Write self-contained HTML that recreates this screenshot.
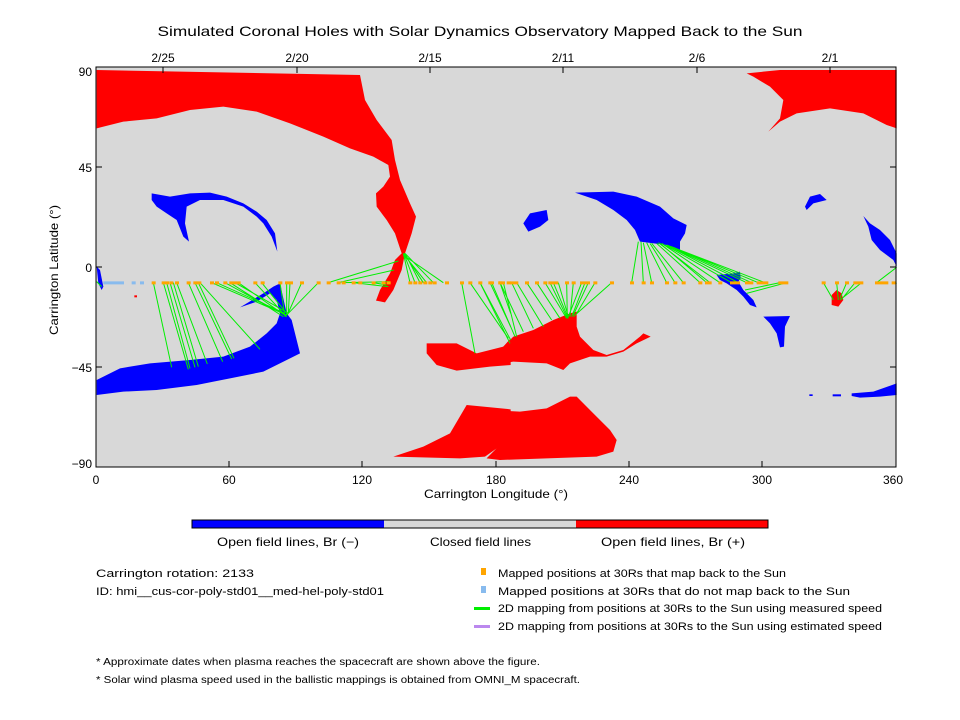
<!DOCTYPE html>
<html><head><meta charset="utf-8"><style>
html,body{margin:0;padding:0;background:#fff;}
svg{display:block;font-family:"Liberation Sans",sans-serif;}
</style></head><body>
<svg width="960" height="720" viewBox="0 0 960 720" xmlns="http://www.w3.org/2000/svg">
<rect width="960" height="720" fill="#fff"/>
<text x="480" y="36" font-size="14" text-anchor="middle" textLength="645" lengthAdjust="spacingAndGlyphs">Simulated Coronal Holes with Solar Dynamics Observatory Mapped Back to the Sun</text>
<rect x="96" y="67" width="800" height="400" fill="#d8d8d8"/>
<g transform="translate(90,60) scale(0.33333)">
<polygon fill="#ff0000" points="20,30 810,45 825,120 860,180 905,240 915,300 930,360 960,430 978,470 965,520 945,580 935,630 910,690 885,727 858,722 870,690 900,640 915,600 935,580 915,520 890,480 860,440 858,400 880,380 900,350 895,315 850,290 780,265 700,230 600,190 500,155 400,140 300,150 200,175 100,185 20,205"/>
<polygon fill="#0000ff" points="185,400 240,410 300,400 360,398 410,410 460,430 500,455 530,480 555,520 562,575 545,530 520,490 500,470 460,440 400,420 330,420 290,440 285,490 297,545 280,530 260,480 230,460 200,440 185,420"/>
<polygon fill="#0000ff" points="20,960 90,925 180,910 300,900 400,890 480,860 530,820 560,790 570,760 560,720 540,700 500,725 450,742 470,730 520,700 550,680 570,670 590,760 605,780 625,860 630,880 600,895 520,935 420,955 320,975 200,990 100,995 20,1005"/>
<polygon fill="#0000ff" points="20,620 30,630 40,680 35,690 25,670"/>
<rect x="133" y="706" width="8" height="6" fill="#ff0000"/>
<polygon fill="#ff0000" points="1010,850 1100,850 1160,880 1240,860 1262,835 1262,915 1200,920 1100,932 1040,915 1010,880"/>
<polygon fill="#ff0000" points="910,1190 1000,1160 1080,1120 1130,1035 1262,1048 1262,1195 1190,1195 1220,1165 1185,1190 1110,1195"/>
</g>
<g transform="translate(480,60) scale(0.33333)">
<polygon fill="#ff0000" points="-3,880 60,870 100,830 160,810 220,780 270,760 290,755 290,800 300,830 340,870 380,885 430,870 480,830 490,820 512,830 470,850 430,875 380,890 330,890 270,910 250,930 200,910 100,905 -3,920"/>
<polygon fill="#ff0000" points="-3,1048 120,1055 200,1045 270,1010 290,1010 340,1060 390,1110 410,1140 400,1175 350,1190 200,1195 60,1200 20,1195 50,1165 -3,1185"/>
<polygon fill="#0000ff" points="285,398 400,395 470,410 540,440 580,475 620,495 615,520 600,545 600,570 560,555 480,545 465,510 440,480 400,450 350,420"/>
<polygon fill="#0000ff" points="130,490 150,460 200,450 205,480 180,500 145,515"/>
<polygon fill="#0000ff" points="710,645 760,640 780,635 782,655 775,665 790,690 820,720 830,742 810,735 790,710 770,690 740,670 720,660"/>
<polygon fill="#0000ff" points="850,770 930,768 915,800 912,860 900,862 890,820 870,790"/>
<polygon fill="#0000ff" points="975,440 990,410 1020,402 1040,420 1000,430 980,450"/>
<polygon fill="#0000ff" points="1150,468 1170,490 1200,510 1230,540 1250,580 1250,620 1240,600 1200,570 1175,540 1165,500"/>
<polygon fill="#0000ff" points="1115,1000 1180,995 1250,970 1250,1005 1200,1010 1140,1013 1115,1008"/>
<rect x="988" y="1003" width="10" height="5" fill="#0000ff"/><rect x="1058" y="1003" width="25" height="6" fill="#0000ff"/>
<polygon fill="#ff0000" points="800,40 900,30 1250,30 1250,205 1220,195 1150,160 1050,145 950,160 900,185 865,215 900,175 910,120 870,80 820,50"/>
<polygon fill="#ff0000" points="1055,705 1070,690 1085,700 1090,720 1075,740 1055,735"/>
</g>
<g transform="translate(90,60) scale(0.33333)" stroke="#00ee00" stroke-width="3" fill="none">
<path d="M190,668L245,922M220,668L295,928M230,668L300,925M240,668L315,922M250,668L325,920M260,668L352,912M295,668L398,905M315,668L425,897M325,668L432,895M330,668L510,868M365,668L590,765M380,668L585,760M405,668L590,768M420,668L580,770M435,668L595,760M445,668L590,770M495,668L585,765M515,668L590,760M570,668L585,770M590,668L590,765M600,668L595,760M635,668L592,765M685,668L595,760M715,668L925,603M745,668L912,630M760,668L900,665M790,668L895,680M850,668L890,675M960,668L940,580M975,668L942,582M990,668L945,580M1000,668L942,580M1010,668L940,582M1030,668L945,580M1060,668L940,585M1115,668L1155,880M1140,668L1255,835M1170,668L1262,840M1200,668L1262,800M1230,668L1262,760M20,665L35,680"/>
</g>
<g transform="translate(480,60) scale(0.33333)" stroke="#00ee00" stroke-width="3" fill="none">
<path d="M0,668L90,850M35,668L105,830M60,668L130,815M70,668L110,830M95,668L160,805M110,668L190,800M140,668L215,780M170,668L240,775M195,668L260,775M210,668L260,770M220,668L265,775M235,668L265,770M260,668L262,775M280,668L270,770M305,668L265,770M315,668L275,770M325,668L280,765M345,668L290,760M395,668L280,770M455,668L475,545M490,668L483,545M515,668L490,548M560,668L500,548M585,668L510,550M610,668L515,550M660,668L530,550M680,668L540,550M690,668L535,548M720,668L545,550M755,668L555,555M775,668L560,555M800,668L570,560M815,668L575,560M835,668L580,562M855,668L560,555M900,668L795,690M920,668L800,700M1030,668L1060,720M1070,668L1075,720M1100,668L1080,715M1125,668L1085,718M1145,668L1080,720M1190,668L1250,622M1240,668L1250,670"/>
</g>
<g transform="translate(90,60) scale(0.33333)" fill="#ffa500">
<path d="M185,664h12v9h-12zM215,664h12v9h-12zM225,664h12v9h-12zM238,664h12v9h-12zM255,664h12v9h-12zM290,664h12v9h-12zM310,664h12v9h-12zM322,664h12v9h-12zM360,664h12v9h-12zM375,664h12v9h-12zM400,664h12v9h-12zM418,664h12v9h-12zM430,664h12v9h-12zM440,664h12v9h-12zM490,664h12v9h-12zM512,664h12v9h-12zM565,664h12v9h-12zM585,664h12v9h-12zM597,664h12v9h-12zM630,664h12v9h-12zM680,664h12v9h-12zM710,664h12v9h-12zM740,664h12v9h-12zM755,664h12v9h-12zM785,664h12v9h-12zM805,664h12v9h-12zM845,664h12v9h-12zM875,664h12v9h-12zM890,664h12v9h-12zM955,664h12v9h-12zM970,664h12v9h-12zM985,664h12v9h-12zM1000,664h12v9h-12zM1015,664h12v9h-12zM1028,664h12v9h-12zM1065,664h12v9h-12zM1110,664h12v9h-12zM1135,664h12v9h-12zM1165,664h12v9h-12zM1195,664h12v9h-12zM1225,664h12v9h-12zM1250,664h12v9h-12z"/>
<path fill="#88bbee" d="M40,664h62v9h-62zM125,664h12v9h-12zM150,664h12v9h-12z"/>
</g>
<g transform="translate(480,60) scale(0.33333)" fill="#ffa500">
<path d="M30,664h12v9h-12zM55,664h20v9h-20zM90,664h25v9h-25zM135,664h12v9h-12zM165,664h12v9h-12zM190,664h12v9h-12zM205,664h30v9h-30zM255,664h12v9h-12zM275,664h12v9h-12zM300,664h30v9h-30zM340,664h12v9h-12zM390,664h12v9h-12zM450,664h12v9h-12zM485,664h12v9h-12zM510,664h12v9h-12zM555,664h12v9h-12zM580,664h12v9h-12zM605,664h12v9h-12zM655,664h12v9h-12zM675,664h20v9h-20zM715,664h12v9h-12zM750,664h30v9h-30zM795,664h25v9h-25zM830,664h35v9h-35zM895,664h30v9h-30zM1025,664h12v9h-12zM1065,664h12v9h-12zM1095,664h12v9h-12zM1120,664h30v9h-30zM1185,664h40v9h-40zM1235,664h12v9h-12z"/>
</g>
<rect x="96" y="67" width="800" height="400" fill="none" stroke="#000" stroke-width="1"/>
<g stroke="#000" stroke-width="1">
<path d="M96,167h6M96,267h6M96,367h6M890,167h6M890,267h6M890,367h6M229,467v-6M362,467v-6M496,467v-6M629,467v-6M762,467v-6M163,67v6M297,67v6M430,67v6M563,67v6M697,67v6M830,67v6"/>
</g>
<g font-size="12" text-anchor="end">
<text x="92" y="76">90</text><text x="92" y="172">45</text><text x="92" y="272">0</text><text x="92" y="372">−45</text><text x="92" y="468">−90</text>
</g>
<g font-size="12" text-anchor="middle">
<text x="96" y="484">0</text><text x="229" y="484">60</text><text x="362" y="484">120</text><text x="496" y="484">180</text><text x="629" y="484">240</text><text x="762" y="484">300</text><text x="893" y="484">360</text>
<text x="163" y="62">2/25</text><text x="297" y="62">2/20</text><text x="430" y="62">2/15</text><text x="563" y="62">2/11</text><text x="697" y="62">2/6</text><text x="830" y="62">2/1</text>
<text x="496" y="498" textLength="144" lengthAdjust="spacingAndGlyphs">Carrington Longitude (°)</text>
<text transform="translate(58,270) rotate(-90)" textLength="130" lengthAdjust="spacingAndGlyphs">Carrington Latitude (°)</text>
</g>
<rect x="192" y="520" width="192" height="8" fill="#0000ff"/>
<rect x="384" y="520" width="192" height="8" fill="#d8d8d8"/>
<rect x="576" y="520" width="192" height="8" fill="#ff0000"/>
<rect x="192" y="520" width="576" height="8" fill="none" stroke="#000"/>
<g font-size="12">
<text x="217" y="546" textLength="142" lengthAdjust="spacingAndGlyphs">Open field lines, Br (−)</text>
<text x="430" y="546" textLength="101" lengthAdjust="spacingAndGlyphs">Closed field lines</text>
<text x="601" y="546" textLength="144" lengthAdjust="spacingAndGlyphs">Open field lines, Br (+)</text>
</g>
<g font-size="11" lengthAdjust="spacingAndGlyphs">
<text x="96" y="577" textLength="158" lengthAdjust="spacingAndGlyphs">Carrington rotation: 2133</text>
<text x="96" y="595" textLength="288" lengthAdjust="spacingAndGlyphs">ID: hmi__cus-cor-poly-std01__med-hel-poly-std01</text>
<text x="498" y="577" textLength="288" lengthAdjust="spacingAndGlyphs">Mapped positions at 30Rs that map back to the Sun</text>
<text x="498" y="595" textLength="352" lengthAdjust="spacingAndGlyphs">Mapped positions at 30Rs that do not map back to the Sun</text>
<text x="498" y="612" textLength="384" lengthAdjust="spacingAndGlyphs">2D mapping from positions at 30Rs to the Sun using measured speed</text>
<text x="498" y="630" textLength="384" lengthAdjust="spacingAndGlyphs">2D mapping from positions at 30Rs to the Sun using estimated speed</text>
<text x="96" y="665" font-size="10" textLength="444" lengthAdjust="spacingAndGlyphs">* Approximate dates when plasma reaches the spacecraft are shown above the figure.</text>
<text x="96" y="683" font-size="10" textLength="484" lengthAdjust="spacingAndGlyphs">* Solar wind plasma speed used in the ballistic mappings is obtained from OMNI_M spacecraft.</text>
</g>
<rect x="481" y="568" width="5" height="7" fill="#ffa500"/>
<rect x="481" y="586" width="5" height="7" fill="#88bbee"/>
<rect x="474" y="607" width="16" height="3" fill="#00ee00"/>
<rect x="474" y="625" width="16" height="3" fill="#bb88ee"/>
</svg>
</body></html>
